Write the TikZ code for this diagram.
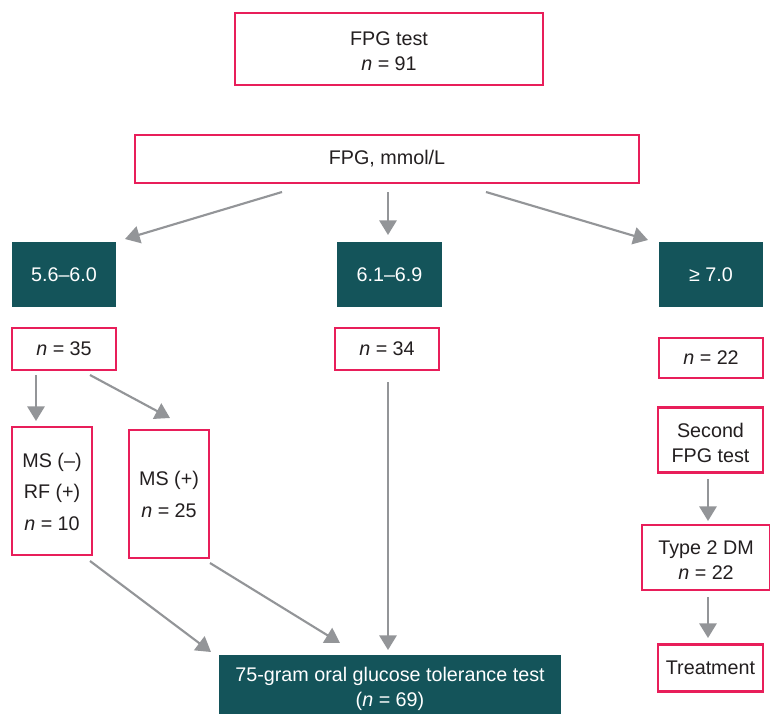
\documentclass[tikz,border=0pt]{standalone}
\usepackage{fontspec}
\setmainfont{Liberation Sans}
\usetikzlibrary{arrows.meta}
\definecolor{pinkc}{RGB}{232,30,90}
\definecolor{tealc}{RGB}{20,84,90}
\definecolor{grayc}{RGB}{147,149,152}
\definecolor{txtc}{RGB}{35,31,32}
\begin{document}
\begin{tikzpicture}[x=0.75pt,y=-0.75pt,
  every node/.style={font=\fontsize{14.8}{18.75}\selectfont, align=center, inner sep=0pt, text=txtc},
  pbox/.style={draw=pinkc, line width=1.7pt, fill=white},
  tbox/.style={fill=tealc, text=white},
  wtext/.style={text=white},
  garrow/.style={draw=grayc, line width=1.6pt, -{Triangle[length=11pt,width=13pt]}}]
\useasboundingbox (0,0) rectangle (770,713);
% boxes
\node[pbox, minimum width=231pt, minimum height=54pt] (fpgtest) at (389,49) {};
\node (fpgtestT) at ([yshift=-2pt]fpgtest.center) {FPG test\\\textit{n} = 91};
\node[pbox, minimum width=378pt, minimum height=36pt] (fpgmm) at (387,159) {FPG, mmol/L};
\node[tbox, minimum width=78pt, minimum height=48.75pt] (d1) at (64,274.5) {5.6–6.0};
\node[tbox, minimum width=78.75pt, minimum height=48.75pt] (d2) at (389.5,274.5) {6.1–6.9};
\node[tbox, minimum width=78pt, minimum height=48.75pt] (d3) at (711,274.5) {≥ 7.0};
\node[pbox, minimum width=78pt, minimum height=31.5pt] (n35) at (64,349) {\textit{n} = 35};
\node[pbox, minimum width=78pt, minimum height=31.5pt] (n34) at (387,349) {\textit{n} = 34};
\node[pbox, minimum width=78pt, minimum height=30pt] (n22) at (711,358) {\textit{n} = 22};
\node[pbox, minimum width=78.75pt, minimum height=48.75pt] (sec) at (710.5,440) {};
\node (secT) at ([yshift=-2pt]sec.center) {Second\\FPG test};
\node[pbox, minimum width=96pt, minimum height=48.75pt] (t2) at (706,557.5) {};
\node (t2T) at ([yshift=-1.8pt]t2.center) {Type 2 DM\\\textit{n} = 22};
\node[pbox, minimum width=78.75pt, minimum height=35.25pt] (treat) at (710.5,668) {Treatment};
\node[pbox, minimum width=60pt, minimum height=96pt] (ms1) at (52,491) {};
\node (ms1T) at ([yshift=-0.5pt]ms1.center) {MS (–)\\[5pt]RF (+)\\[5pt]\textit{n} = 10};
\node[pbox, minimum width=60pt, minimum height=96pt] (ms2) at (169,494) {};
\node (ms2T) at ([yshift=-0.5pt]ms2.center) {MS (+)\\[5pt]\textit{n} = 25};
\node[tbox, minimum width=256.5pt, minimum height=46.5pt] (ogtt) at (390,686) {};
\node[wtext] (ogttT) at ([yshift=-2.5pt]ogtt.center) {75-gram oral glucose tolerance test\\(\textit{n} = 69)};
% arrow end points
\coordinate (a1s) at (282,192); \coordinate (a1e) at (125,239);
\coordinate (a2s) at (388,192); \coordinate (a2e) at (388,235);
\coordinate (a3s) at (486,192); \coordinate (a3e) at (648,240);
\coordinate (b1s) at (36,375);  \coordinate (b1e) at (36,421);
\coordinate (b2s) at (90,375);  \coordinate (b2e) at (170,418);
\coordinate (c1s) at (388,382); \coordinate (c1e) at (388,650);
\coordinate (c2s) at (90,561);  \coordinate (c2e) at (211,652);
\coordinate (c3s) at (210,563); \coordinate (c3e) at (340,643);
\coordinate (e1s) at (708,479); \coordinate (e1e) at (708,521);
\coordinate (e2s) at (708,597); \coordinate (e2e) at (708,638);
% arrows
\draw[garrow] (a1s) -- (a1e);
\draw[garrow] (a2s) -- (a2e);
\draw[garrow] (a3s) -- (a3e);
\draw[garrow] (b1s) -- (b1e);
\draw[garrow] (b2s) -- (b2e);
\draw[garrow] (c1s) -- (c1e);
\draw[garrow] (c2s) -- (c2e);
\draw[garrow] (c3s) -- (c3e);
\draw[garrow] (e1s) -- (e1e);
\draw[garrow] (e2s) -- (e2e);
\end{tikzpicture}
\end{document}
